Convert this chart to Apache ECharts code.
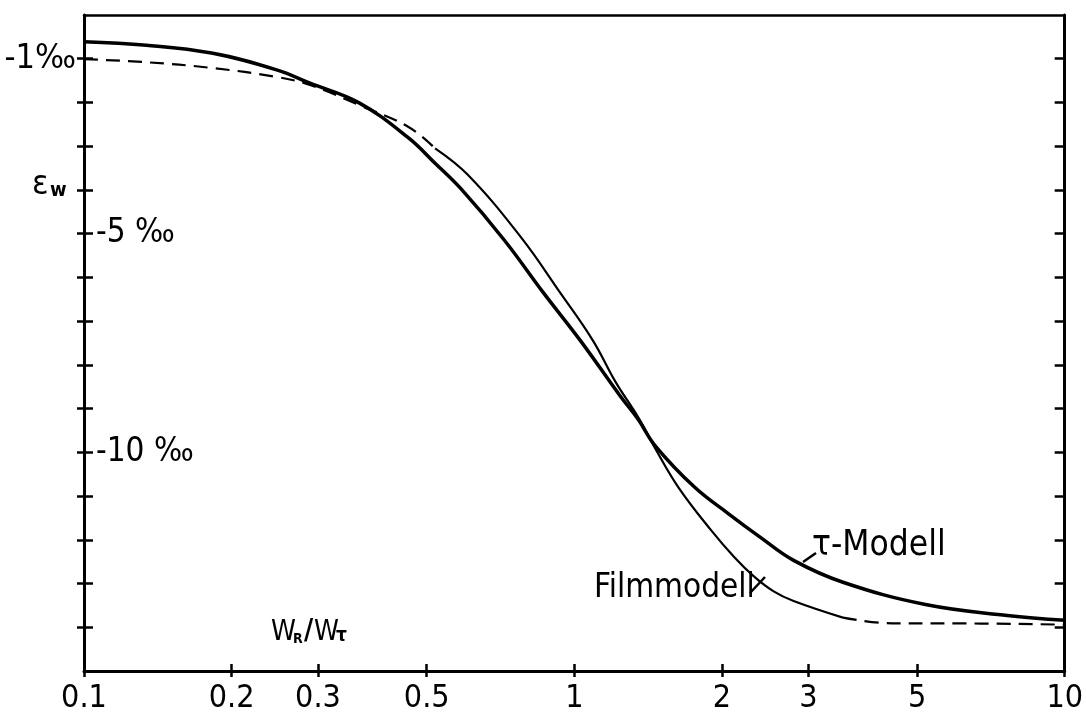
<!DOCTYPE html>
<html>
<head>
<meta charset="utf-8">
<script src="https://cdn.jsdelivr.net/npm/echarts@6/dist/echarts.min.js"></script>
<style>html,body{margin:0;padding:0;background:#fff}#c{width:1086px;height:721px}</style>
</head>
<body>
<div id="c"></div>
<script>
// ---- data ----
const xTickValues = [0.1, 0.2, 0.3, 0.5, 1, 2, 3, 5, 10];
const xTickLabels = ['0.1', '0.2', '0.3', '0.5', '1', '2', '3', '5', '10'];
const yTickValues = [-1, -2, -3, -4, -5, -6, -7, -8, -9, -10, -11, -12, -13, -14];
const yOuterLabels = { '-1': '-1‰' };
const yInnerLabels = { '-5': '-5 ‰', '-10': '-10 ‰' };

const tauX = [0.1, 0.134, 0.182, 0.248, 0.289, 0.364, 0.459, 0.52, 0.59, 0.72, 0.866, 1.028, 1.238, 1.35, 1.462, 1.76, 2.06, 2.4, 2.8, 3.53, 5.2, 7.64, 10];
const tauY = [-0.61, -0.69, -0.87, -1.26, -1.56, -2.01, -2.81, -3.39, -4.0, -5.15, -6.36, -7.44, -8.7, -9.25, -9.85, -10.8, -11.4, -11.95, -12.47, -12.97, -13.48, -13.73, -13.84];

const filmX = [0.1, 0.134, 0.182, 0.248, 0.289, 0.364, 0.459, 0.52, 0.607, 0.778, 0.937, 1.092, 1.215, 1.35, 1.46, 1.63, 1.9, 2.12, 2.32, 2.55, 2.8, 3.53, 4.45, 5.6, 10];
const filmY = [-1.01, -1.08, -1.21, -1.42, -1.6, -2.06, -2.56, -3.05, -3.66, -5.08, -6.36, -7.45, -8.4, -9.2, -9.9, -10.8, -11.78, -12.4, -12.83, -13.18, -13.4, -13.78, -13.91, -13.91, -13.94];
const filmSolidFrom = 7;   // index where the solid part starts
const filmSolidTo = 21;    // index where the solid part ends

// ---- build ----
const FONT = '"DejaVu Sans Condensed", "Liberation Sans Narrow", sans-serif';
const lg = v => Math.log10(v);
const pts = (xs, ys) => xs.map((x, i) => [lg(x), ys[i]]);
const tauData = pts(tauX, tauY);
const filmData = pts(filmX, filmY);
const xCustom = xTickValues.map(lg);
const xLabel = v => {
  for (let i = 0; i < xTickValues.length; i++) if (Math.abs(lg(xTickValues[i]) - v) < 1e-6) return xTickLabels[i];
  return '';
};

const chart = echarts.init(document.getElementById('c'), null, { renderer: 'canvas' });
const black = '#000';
const axisBase = { type: 'value', splitLine: { show: false } };
const line = (w) => ({ show: true, onZero: false, lineStyle: { color: black, width: w } });
const noLine = { show: false, onZero: false };
const SM = 0.4;
chart.setOption({
  backgroundColor: '#fff',
  animation: false,
  grid: { left: 84, right: 8, top: 15, bottom: 50, containLabel: false },
  xAxis: [
    Object.assign({}, axisBase, {
      min: -1, max: 1, position: 'bottom',
      axisLine: line(3),
      axisTick: { show: true, customValues: xCustom, length: 6, lineStyle: { color: black, width: 2.5 } },
      axisLabel: { show: true, customValues: xCustom, formatter: xLabel, color: black, fontFamily: FONT, fontSize: 32, margin: 12 }
    }),
    Object.assign({}, axisBase, {
      min: -1, max: 1, position: 'bottom', offset: 0,
      axisLine: noLine,
      axisTick: { show: true, inside: true, customValues: xCustom, length: 7, lineStyle: { color: black, width: 2.5 } },
      axisLabel: { show: false }
    }),
    Object.assign({}, axisBase, {
      min: -1, max: 1, position: 'top', offset: 0,
      axisLine: line(2.5),
      axisTick: { show: false }, axisLabel: { show: false }
    })
  ],
  yAxis: [
    Object.assign({}, axisBase, {
      min: -15, max: 0, interval: 1, position: 'left',
      axisLine: line(3),
      axisTick: { show: true, customValues: yTickValues, length: 7, lineStyle: { color: black, width: 2.5 } },
      axisLabel: { show: true, customValues: [-1], formatter: v => yOuterLabels[String(v)] || '', color: black, fontFamily: FONT, fontSize: 34, margin: 8 }
    }),
    Object.assign({}, axisBase, {
      min: -15, max: 0, interval: 1, position: 'left', offset: 0,
      axisLine: noLine,
      axisTick: { show: true, inside: true, customValues: yTickValues, length: 9, lineStyle: { color: black, width: 2.5 } },
      axisLabel: { show: true, inside: true, customValues: [-5, -10], formatter: v => yInnerLabels[String(v)] || '', color: black, fontFamily: FONT, fontSize: 33, margin: 12 }
    }),
    Object.assign({}, axisBase, {
      min: -15, max: 0, interval: 1, position: 'right', offset: 0,
      axisLine: line(3),
      axisTick: { show: true, inside: true, customValues: yTickValues, length: 10, lineStyle: { color: black, width: 2.5 } },
      axisLabel: { show: false }
    })
  ],
  series: [
    { name: 'τ-Modell', type: 'line', data: tauData, smooth: SM, symbol: 'none',
      lineStyle: { color: black, width: 3.5 } },
    { name: 'Filmmodell-a', type: 'line', data: filmData.slice(0, filmSolidFrom + 1), smooth: SM, symbol: 'none',
      lineStyle: { color: black, width: 2.2, type: [14, 8] } },
    { name: 'Filmmodell', type: 'line', data: filmData.slice(filmSolidFrom, filmSolidTo + 1), smooth: SM, symbol: 'none',
      lineStyle: { color: black, width: 2.2 } },
    { name: 'Filmmodell-b', type: 'line', data: filmData.slice(filmSolidTo), smooth: SM, symbol: 'none',
      lineStyle: { color: black, width: 2.2, type: [14, 8] } }
  ],
  graphic: [
    { type: 'text', left: 32, top: 168, style: { text: 'ε', font: '34px ' + FONT, fill: black } },
    { type: 'text', left: 50, top: 181, style: { text: 'w', font: 'bold 20px ' + FONT, fill: black } },
    { type: 'text', left: 271, top: 619, style: { text: 'W', font: '28px ' + FONT, fill: black } },
    { type: 'text', left: 293, top: 632, style: { text: 'R', font: 'bold 14px ' + FONT, fill: black } },
    { type: 'text', left: 304, top: 618, style: { text: '/', font: 'bold 28px ' + FONT, fill: black } },
    { type: 'text', left: 314, top: 619, style: { text: 'W', font: '28px ' + FONT, fill: black } },
    { type: 'text', left: 336, top: 627, style: { text: 'τ', font: 'bold 19px ' + FONT, fill: black } },
    { type: 'text', left: 812, top: 528, style: { text: 'τ-Modell', font: '35px ' + FONT, fill: black } },
    { type: 'line', shape: { x1: 803, y1: 562, x2: 816, y2: 553 }, style: { stroke: black, lineWidth: 2.5 } },
    { type: 'text', left: 594, top: 572, style: { text: 'Filmmodell', font: '33px ' + FONT, fill: black } },
    { type: 'line', shape: { x1: 750, y1: 593, x2: 765, y2: 577 }, style: { stroke: black, lineWidth: 2.5 } }
  ]
});
</script>
</body>
</html>
